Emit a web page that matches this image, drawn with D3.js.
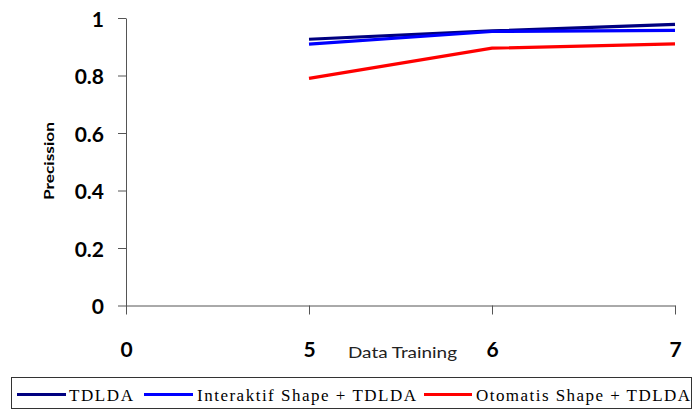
<!DOCTYPE html>
<html>
<head>
<meta charset="utf-8">
<script src="https://cdn.jsdelivr.net/npm/d3@7"></script>
<style>
  html, body { margin: 0; padding: 0; background: #fff; }
  svg { display: block; }
</style>
</head>
<body>
<svg id="chart" width="694" height="410"></svg>
<script>
// ---- data ----
const categories = ["0", "5", "6", "7"];
const yTicks = [0, 0.2, 0.4, 0.6, 0.8, 1];
const seriesNames = ["TDLDA", "Interaktif Shape + TDLDA", "Otomatis Shape + TDLDA"];
const tdlda      = [null, 0.926, 0.955, 0.978];
const interaktif = [null, 0.909, 0.953, 0.957];
const otomatis   = [null, 0.790, 0.895, 0.910];
const seriesColors = ["#000080", "#0000FF", "#FF0000"];

const svg = d3.select("#chart");
const x = d3.scalePoint().domain(categories).range([126, 675]);
const y = d3.scaleLinear().domain([0, 1]).range([305.5, 18]);

const axisColor = "#555";
const numFont = "Lato, 'Open Sans', sans-serif";

// y axis
const gy = svg.append("g").attr("transform", "translate(126,0)")
  .call(d3.axisLeft(y).tickValues(yTicks).tickFormat(d3.format("~g"))
        .tickSize(8).tickSizeOuter(0).tickPadding(14));
gy.select(".domain").attr("stroke", axisColor);
gy.selectAll(".tick line").attr("stroke", axisColor);
gy.selectAll(".tick text")
  .attr("font-family", numFont).attr("font-weight", "bold")
  .attr("font-size", 21).attr("fill", "#000").attr("dy", "0.4em");

// x axis
const gx = svg.append("g").attr("transform", `translate(0,${y(0)})`)
  .call(d3.axisBottom(x).tickSize(9).tickSizeOuter(0).tickPadding(28));
gx.select(".domain").attr("stroke", axisColor);
gx.selectAll(".tick line").attr("stroke", axisColor);
gx.selectAll(".tick text")
  .attr("font-family", numFont).attr("font-weight", "bold")
  .attr("font-size", 21).attr("fill", "#000");

// axis titles
svg.append("text")
  .attr("x", 348).attr("y", 358)
  .attr("font-family", numFont).attr("font-size", 15).attr("fill", "#222")
  .attr("textLength", 109).attr("lengthAdjust", "spacingAndGlyphs")
  .text("Data Training");

svg.append("text")
  .attr("transform", "translate(54,161) rotate(-90)")
  .attr("text-anchor", "middle")
  .attr("font-family", numFont).attr("font-weight", "bold")
  .attr("font-size", 14).attr("fill", "#000")
  .attr("textLength", 78).attr("lengthAdjust", "spacingAndGlyphs")
  .text("Precission");

// lines
const allSeries = [tdlda, interaktif, otomatis];
const line = d3.line()
  .defined(d => d.v !== null)
  .x(d => x(d.c))
  .y(d => y(d.v));

allSeries.forEach((vals, i) => {
  const pts = categories.map((c, j) => ({ c, v: vals[j] }));
  svg.append("path")
    .datum(pts)
    .attr("fill", "none")
    .attr("stroke", seriesColors[i])
    .attr("stroke-width", 3.2)
    .attr("d", line);
});

// legend
svg.append("rect")
  .attr("x", 11.5).attr("y", 377.5).attr("width", 680).attr("height", 31)
  .attr("fill", "#fff").attr("stroke", "#333").attr("stroke-width", 1);

const legendItems = [
  { lx: 17, lw: 49, tx: 69, tw: 64 },
  { lx: 144, lw: 49, tx: 197, tw: 219 },
  { lx: 424, lw: 48, tx: 476, tw: 214 }
];
legendItems.forEach((it, i) => {
  svg.append("line")
    .attr("x1", it.lx).attr("x2", it.lx + it.lw)
    .attr("y1", 394.5).attr("y2", 394.5)
    .attr("stroke", seriesColors[i]).attr("stroke-width", 3.2);
  svg.append("text")
    .attr("x", it.tx).attr("y", 401)
    .attr("font-family", "'Liberation Serif', 'Times New Roman', serif")
    .attr("font-size", 17).attr("fill", "#000")
    .attr("textLength", it.tw).attr("lengthAdjust", "spacing")
    .text(seriesNames[i]);
});
</script>
</body>
</html>
